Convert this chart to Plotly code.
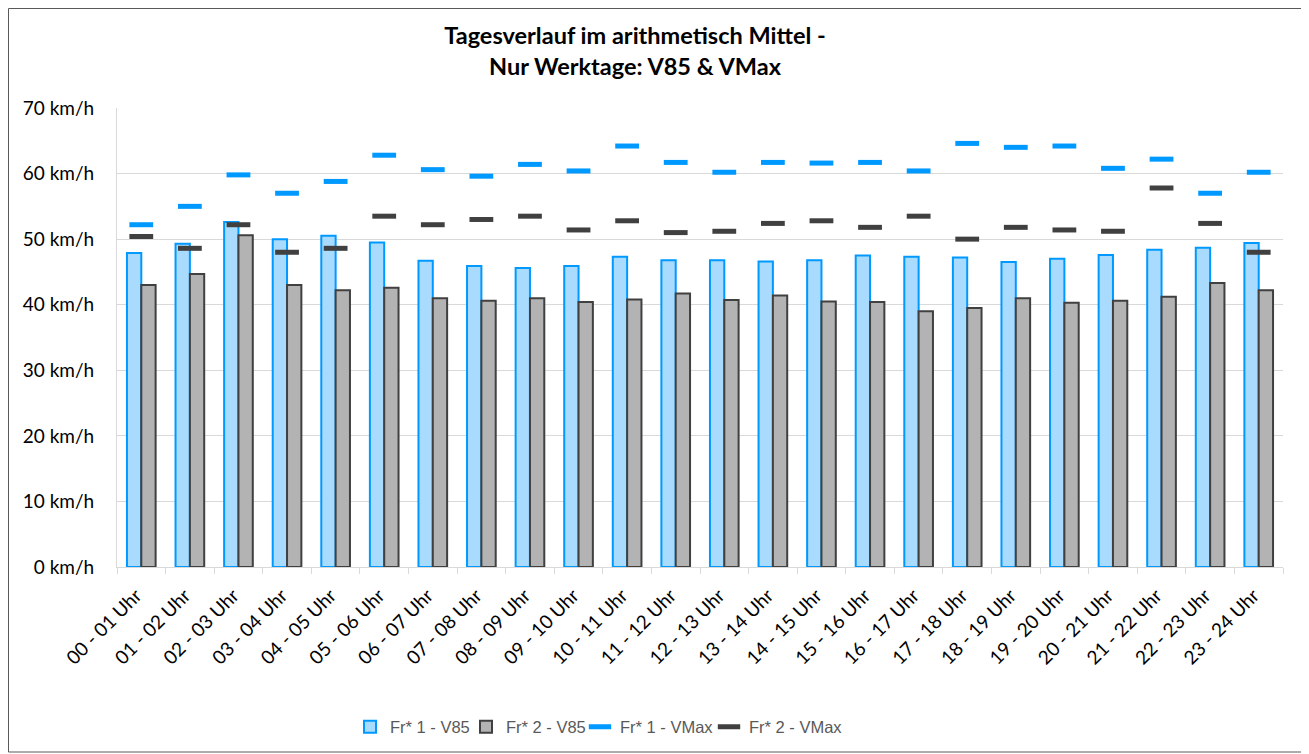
import plotly.graph_objects as go

categories = [f"{h:02d} - {h+1:02d} Uhr" for h in range(24)]

fr1_v85 = [47.9, 49.3, 52.6, 50.0, 50.5, 49.5, 46.7, 45.9, 45.6, 45.9, 47.3, 46.8,
           46.8, 46.6, 46.8, 47.5, 47.3, 47.2, 46.5, 47.0, 47.6, 48.4, 48.7, 49.4]
fr2_v85 = [43.0, 44.7, 50.6, 43.0, 42.2, 42.6, 41.0, 40.6, 41.0, 40.4, 40.8, 41.7,
           40.7, 41.4, 40.5, 40.4, 39.0, 39.5, 41.0, 40.3, 40.6, 41.2, 43.3, 42.2]
fr1_vmax = [52.2, 55.0, 59.8, 57.0, 58.8, 62.8, 60.6, 59.6, 61.4, 60.4, 64.2, 61.7,
            60.2, 61.7, 61.6, 61.7, 60.4, 64.6, 64.0, 64.2, 60.8, 62.2, 57.0, 60.2]
fr2_vmax = [50.4, 48.6, 52.2, 48.0, 48.6, 53.5, 52.2, 53.0, 53.5, 51.4, 52.8, 51.0,
            51.2, 52.4, 52.8, 51.8, 53.5, 50.0, 51.8, 51.4, 51.2, 57.8, 52.4, 48.0]

series_names = ["Fr* 1 - V85", "Fr* 2 - V85", "Fr* 1 - VMax", "Fr* 2 - VMax"]

BLUE = "#0099FF"
LBLUE = "#A9DBFE"
DARK = "#404040"
GREY = "#B3B3B3"

fig = go.Figure()
fig.add_trace(go.Bar(x=categories, y=fr1_v85, name=series_names[0], legend="legend",
                     showlegend=True,
                     marker=dict(color=LBLUE, line=dict(color=BLUE, width=2))))
fig.add_trace(go.Bar(x=categories, y=fr2_v85, name=series_names[1], legend="legend2",
                     showlegend=True,
                     marker=dict(color=GREY, line=dict(color=DARK, width=2))))
fig.add_trace(go.Scatter(x=categories, y=fr1_vmax, name=series_names[2], mode="markers",
                         legend="legend3", showlegend=True,
                         marker=dict(symbol="line-ew", size=17,
                                     line=dict(color=BLUE, width=5))))
fig.add_trace(go.Scatter(x=categories, y=fr2_vmax, name=series_names[3], mode="markers",
                         legend="legend4", showlegend=True,
                         marker=dict(symbol="line-ew", size=17,
                                     line=dict(color=DARK, width=5))))

# page has an 8px body margin -> figure is drawn 8px smaller and offset
OFF = 8
W, H = 1309 - OFF, 754 - OFF
L, R, T, B = 117 - OFF, 1309 - 1283, 108 - OFF, 754 - 567
pw, ph = W - L - R, H - T - B

legend_font = dict(family="Liberation Sans, Arial, sans-serif", size=16.5, color="#595959")
legend_sym_x = [372, 488, 602, 731]  # page x of legend symbols in the reference


def legend_cfg(px):
    return dict(orientation="h", x=(px - 22 - OFF - L) / pw, xanchor="left",
                y=(567 - 727) / ph, yanchor="middle", font=legend_font,
                itemwidth=30, bgcolor="rgba(0,0,0,0)", visible=True)


fig.update_layout(
    width=W, height=H,
    showlegend=True,
    margin=dict(l=L, r=R, t=T, b=B, autoexpand=False),
    paper_bgcolor="white", plot_bgcolor="white",
    barmode="group", bargap=0.41, bargroupgap=0.0,
    font=dict(family="Lato, Open Sans, sans-serif", color="black", size=19),
    title=dict(text="Tagesverlauf im arithmetisch Mittel -<br>Nur Werktage: V85 & VMax",
               x=(635 - OFF) / W, xanchor="center", y=1 - (44 - OFF) / H, yanchor="middle",
               font=dict(family="Lato, sans-serif", size=23.5, color="black", weight="bold")),
    legend=legend_cfg(legend_sym_x[0]),
    legend2=legend_cfg(legend_sym_x[1]),
    legend3=legend_cfg(legend_sym_x[2]),
    legend4=legend_cfg(legend_sym_x[3]),
    xaxis=dict(type="category", range=[-0.5, 23.5], automargin=False, tickangle=-45,
               showline=True, linecolor="#D9D9D9", linewidth=1,
               ticks="outside", tickson="boundaries", ticklen=6, tickcolor="#D9D9D9",
               tickfont=dict(size=19), showgrid=False, ticklabelshift=-5, ticklabelstandoff=9),
    yaxis=dict(range=[0, 70], dtick=10, ticksuffix=" km/h", showgrid=True, gridcolor="#D9D9D9",
               showline=True, linecolor="#D9D9D9", linewidth=1,
               automargin=False, gridwidth=1, zeroline=False, tickfont=dict(size=19), ticks="",
               ticklabelstandoff=18),
    shapes=[dict(type="rect", xref="paper", yref="paper",
                 x0=(0.5 - L) / pw, x1=(1306 - OFF - L) / pw,
                 y0=-(752 - 567) / ph, y1=1 + (T - 0.5) / ph,
                 line=dict(color="#595959", width=1), fillcolor="rgba(0,0,0,0)", layer="below")],
)

fig.write_html("out.html")
